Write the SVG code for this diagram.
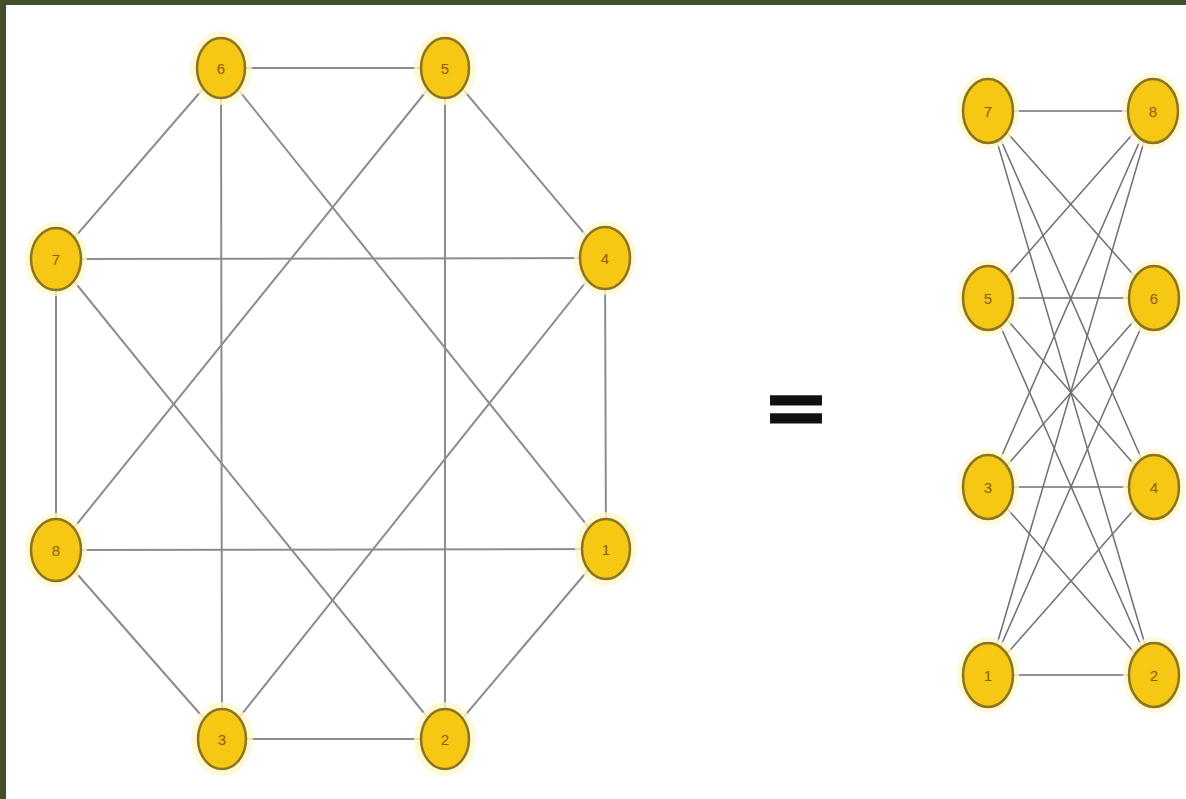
<svg xmlns="http://www.w3.org/2000/svg" width="1186" height="799" viewBox="0 0 1186 799">
<style>
.e{stroke:#8c8c8c;stroke-width:2;fill:none}
.e2{stroke:#6e6e78;stroke-width:1.5;fill:none}
.halo{fill:#fff7cc;opacity:0.8}
.n{fill:#f6c814;stroke:#8a7420;stroke-width:2.5}
.t{font-family:"Liberation Sans",Arial,sans-serif;font-size:15px;fill:#8a5a00;text-anchor:middle;dominant-baseline:central}
</style>
<rect x="0" y="0" width="1186" height="799" fill="#ffffff"/>
<rect x="0" y="0" width="1186" height="5" fill="#434f2a"/>
<rect x="0" y="0" width="6" height="799" fill="#434f2a"/>
<g id="connectors">
<line class="e" x1="221" y1="68" x2="445" y2="68"/>
<line class="e" x1="221" y1="68" x2="56" y2="259"/>
<line class="e" x1="221" y1="68" x2="222" y2="739"/>
<line class="e" x1="221" y1="68" x2="606" y2="549"/>
<line class="e" x1="445" y1="68" x2="605" y2="258"/>
<line class="e" x1="445" y1="68" x2="445" y2="739"/>
<line class="e" x1="445" y1="68" x2="56" y2="550"/>
<line class="e" x1="56" y1="259" x2="605" y2="258"/>
<line class="e" x1="56" y1="259" x2="56" y2="550"/>
<line class="e" x1="56" y1="259" x2="445" y2="739"/>
<line class="e" x1="605" y1="258" x2="606" y2="549"/>
<line class="e" x1="605" y1="258" x2="222" y2="739"/>
<line class="e" x1="56" y1="550" x2="606" y2="549"/>
<line class="e" x1="56" y1="550" x2="222" y2="739"/>
<line class="e" x1="606" y1="549" x2="445" y2="739"/>
<line class="e" x1="222" y1="739" x2="445" y2="739"/>
<line class="e2" x1="988" y1="111" x2="1153" y2="111"/>
<line class="e2" x1="988" y1="111" x2="1154" y2="298"/>
<line class="e2" x1="988" y1="111" x2="1154" y2="487"/>
<line class="e2" x1="988" y1="111" x2="1154" y2="675"/>
<line class="e2" x1="988" y1="298" x2="1153" y2="111"/>
<line class="e2" x1="988" y1="298" x2="1154" y2="298"/>
<line class="e2" x1="988" y1="298" x2="1154" y2="487"/>
<line class="e2" x1="988" y1="298" x2="1154" y2="675"/>
<line class="e2" x1="988" y1="487" x2="1153" y2="111"/>
<line class="e2" x1="988" y1="487" x2="1154" y2="298"/>
<line class="e2" x1="988" y1="487" x2="1154" y2="487"/>
<line class="e2" x1="988" y1="487" x2="1154" y2="675"/>
<line class="e2" x1="988" y1="675" x2="1153" y2="111"/>
<line class="e2" x1="988" y1="675" x2="1154" y2="298"/>
<line class="e2" x1="988" y1="675" x2="1154" y2="487"/>
<line class="e2" x1="988" y1="675" x2="1154" y2="675"/>
</g>
<g id="L6"><ellipse class="halo" cx="221" cy="68" rx="31" ry="37"/><ellipse class="n" cx="221" cy="68" rx="24" ry="30"/><text class="t" x="221" y="68">6</text></g>
<g id="L5"><ellipse class="halo" cx="445" cy="68" rx="31" ry="37"/><ellipse class="n" cx="445" cy="68" rx="24" ry="30"/><text class="t" x="445" y="68">5</text></g>
<g id="L7"><ellipse class="halo" cx="56" cy="259" rx="31" ry="37"/><ellipse class="n" cx="56" cy="259" rx="25" ry="31"/><text class="t" x="56" y="259">7</text></g>
<g id="L4"><ellipse class="halo" cx="605" cy="258" rx="31" ry="37"/><ellipse class="n" cx="605" cy="258" rx="25" ry="31"/><text class="t" x="605" y="258">4</text></g>
<g id="L8"><ellipse class="halo" cx="56" cy="550" rx="31" ry="37"/><ellipse class="n" cx="56" cy="550" rx="25" ry="31"/><text class="t" x="56" y="550">8</text></g>
<g id="L1"><ellipse class="halo" cx="606" cy="549" rx="31" ry="37"/><ellipse class="n" cx="606" cy="549" rx="24" ry="30"/><text class="t" x="606" y="549">1</text></g>
<g id="L3"><ellipse class="halo" cx="222" cy="739" rx="31" ry="37"/><ellipse class="n" cx="222" cy="739" rx="24" ry="30"/><text class="t" x="222" y="739">3</text></g>
<g id="L2"><ellipse class="halo" cx="445" cy="739" rx="31" ry="37"/><ellipse class="n" cx="445" cy="739" rx="24" ry="30"/><text class="t" x="445" y="739">2</text></g>
<g id="equals"><text x="0" y="432" transform="translate(796,0) scale(1.44,1)" font-family="Liberation Sans,Arial,sans-serif" font-size="66" font-weight="bold" fill="#111" stroke="#111" stroke-width="3" text-anchor="middle">=</text></g>
<g id="R7"><ellipse class="halo" cx="988" cy="111" rx="31" ry="38"/><ellipse class="n" cx="988" cy="111" rx="25" ry="32"/><text class="t" x="988" y="111">7</text></g>
<g id="R8"><ellipse class="halo" cx="1153" cy="111" rx="31" ry="38"/><ellipse class="n" cx="1153" cy="111" rx="25" ry="32"/><text class="t" x="1153" y="111">8</text></g>
<g id="R5"><ellipse class="halo" cx="988" cy="298" rx="31" ry="38"/><ellipse class="n" cx="988" cy="298" rx="25" ry="32"/><text class="t" x="988" y="298">5</text></g>
<g id="R6"><ellipse class="halo" cx="1154" cy="298" rx="31" ry="38"/><ellipse class="n" cx="1154" cy="298" rx="25" ry="32"/><text class="t" x="1154" y="298">6</text></g>
<g id="R3"><ellipse class="halo" cx="988" cy="487" rx="31" ry="38"/><ellipse class="n" cx="988" cy="487" rx="25" ry="32"/><text class="t" x="988" y="487">3</text></g>
<g id="R4"><ellipse class="halo" cx="1154" cy="487" rx="31" ry="38"/><ellipse class="n" cx="1154" cy="487" rx="25" ry="32"/><text class="t" x="1154" y="487">4</text></g>
<g id="R1"><ellipse class="halo" cx="988" cy="675" rx="31" ry="38"/><ellipse class="n" cx="988" cy="675" rx="25" ry="32"/><text class="t" x="988" y="675">1</text></g>
<g id="R2"><ellipse class="halo" cx="1154" cy="675" rx="31" ry="38"/><ellipse class="n" cx="1154" cy="675" rx="25" ry="32"/><text class="t" x="1154" y="675">2</text></g>
</svg>
